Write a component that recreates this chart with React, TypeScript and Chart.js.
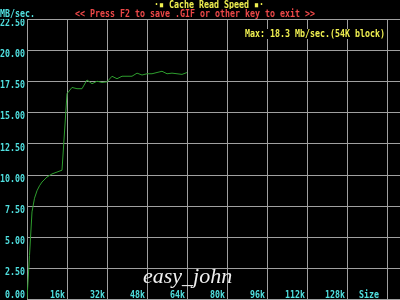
import React, { useEffect, useRef } from "react";
import { Chart, registerables } from "chart.js";

Chart.register(...registerables);

const blockSizesK = [0, 1, 2, 3, 4, 5, 6, 8, 10, 12, 14, 16, 18, 20, 22, 24, 26, 28, 30, 32, 34, 36, 38, 40, 42, 44, 46, 48, 50, 52, 54, 56, 58, 60, 62, 64];
const speedMBs = [0, 3.5, 7.0, 8.1, 8.7, 9.1, 9.4, 9.8, 10.05, 10.2, 10.35, 16.5, 17.0, 16.9, 16.9, 17.6, 17.3, 17.5, 17.4, 17.45, 17.9, 17.7, 17.9, 17.9, 17.9, 18.15, 18.0, 18.1, 18.1, 18.2, 18.3, 18.1, 18.15, 18.1, 18.05, 18.2];
const xTickValues = [16, 32, 48, 64, 80, 96, 112, 128];
const xTickLabels = ["16k", "32k", "48k", "64k", "80k", "96k", "112k", "128k"];
const yTickValues = [0, 2.5, 5, 7.5, 10, 12.5, 15, 17.5, 20, 22.5];
const titleText = "·▪ Cache Read Speed ▪·";
const promptText = "<< Press F2 to save .GIF or other key to exit >>";
const unitText = "MB/sec.";
const maxText = "Max: 18.3 Mb/sec.(54K block)";
const sizeText = "Size";
const watermark = "easy_john";

export default function App() {
  const ref = useRef<HTMLCanvasElement>(null);
  useEffect(() => {
    document.body.style.margin = "0";
    const canvas = ref.current!;
    const MONO = 'bold 10px "DejaVu Sans Mono"';
    const CW = 5;
    const drawText = (
      ctx: CanvasRenderingContext2D,
      text: string,
      x: number,
      y: number,
      color: string,
      align: "left" | "right" | "center",
      bg: boolean
    ) => {
      const w = text.length * CW;
      let left = x;
      if (align === "right") left = x - w;
      if (align === "center") left = x - w / 2;
      if (bg) {
        ctx.fillStyle = "#000";
        ctx.fillRect(left - 1, y - 5, w + 2, 10);
      }
      ctx.font = MONO;
      ctx.fillStyle = color;
      ctx.textAlign = "left";
      ctx.textBaseline = "middle";
      ctx.fillText(text, left, y + 0.5, w);
    };

    const plugin = {
      id: "dosgraph",
      beforeDraw(chart: any) {
        const ctx = chart.ctx as CanvasRenderingContext2D;
        ctx.save();
        ctx.fillStyle = "#000";
        ctx.fillRect(0, 0, chart.width, chart.height);
        const xs = chart.scales.x;
        const ys = chart.scales.y;
        const a = chart.chartArea;
        ctx.strokeStyle = "#a0a0a0";
        ctx.lineWidth = 1;
        yTickValues.forEach((v) => {
          const py = Math.round(ys.getPixelForValue(v)) + 0.5;
          ctx.beginPath();
          ctx.moveTo(a.left, py);
          ctx.lineTo(chart.width, py);
          ctx.stroke();
        });
        [0, ...xTickValues, 144].forEach((v) => {
          const px = Math.round(xs.getPixelForValue(v)) + 0.5;
          ctx.beginPath();
          ctx.moveTo(px, a.top + 1);
          ctx.lineTo(px, chart.height);
          ctx.stroke();
        });
        ctx.restore();
      },
      afterDraw(chart: any) {
        const ctx = chart.ctx as CanvasRenderingContext2D;
        const xs = chart.scales.x;
        const ys = chart.scales.y;
        ctx.save();
        const cyan = "#50e0e0";
        yTickValues.forEach((v) => {
          const py = ys.getPixelForValue(v);
          drawText(ctx, v.toFixed(2), 25, Math.min(py + 4, 295), cyan, "right", false);
        });
        xTickValues.forEach((v, i) => {
          const px = xs.getPixelForValue(v);
          drawText(ctx, xTickLabels[i], px - 2, 295, cyan, "right", false);
        });
        drawText(ctx, sizeText, xs.getPixelForValue(144) - 8, 295, cyan, "right", false);
        drawText(ctx, unitText, 0, 14, cyan, "left", true);
        drawText(ctx, titleText, 209, 5, "#f0f050", "center", true);
        drawText(ctx, promptText, 195, 14, "#ee4848", "center", true);
        drawText(ctx, maxText, 385, 34, "#f0f050", "right", true);
        ctx.font = 'italic 22px "Liberation Serif"';
        ctx.fillStyle = "#f0f0f0";
        ctx.textAlign = "left";
        ctx.textBaseline = "alphabetic";
        ctx.fillText(watermark, 143, 283, 94);
        ctx.restore();
      },
    };

    const chart = new Chart(canvas, {
      type: "line",
      data: {
        datasets: [
          {
            data: blockSizesK.map((k, i) => ({ x: k, y: speedMBs[i] })),
            borderColor: "#2e9e2e",
            borderWidth: 1,
            pointRadius: 0,
            tension: 0,
            fill: false,
          },
        ],
      },
      options: {
        animation: false,
        responsive: false,
        maintainAspectRatio: false,
        layout: { padding: { left: 27, top: 19, right: 0, bottom: 1 } },
        plugins: { legend: { display: false }, tooltip: { enabled: false }, title: { display: false } },
        scales: {
          x: { type: "linear", min: 0, max: 149.2, display: false },
          y: { type: "linear", min: 0, max: 22.5, display: false },
        },
      },
      plugins: [plugin],
    });
    return () => chart.destroy();
  }, []);
  return <canvas ref={ref} width={400} height={300} style={{ display: "block" }} />;
}
